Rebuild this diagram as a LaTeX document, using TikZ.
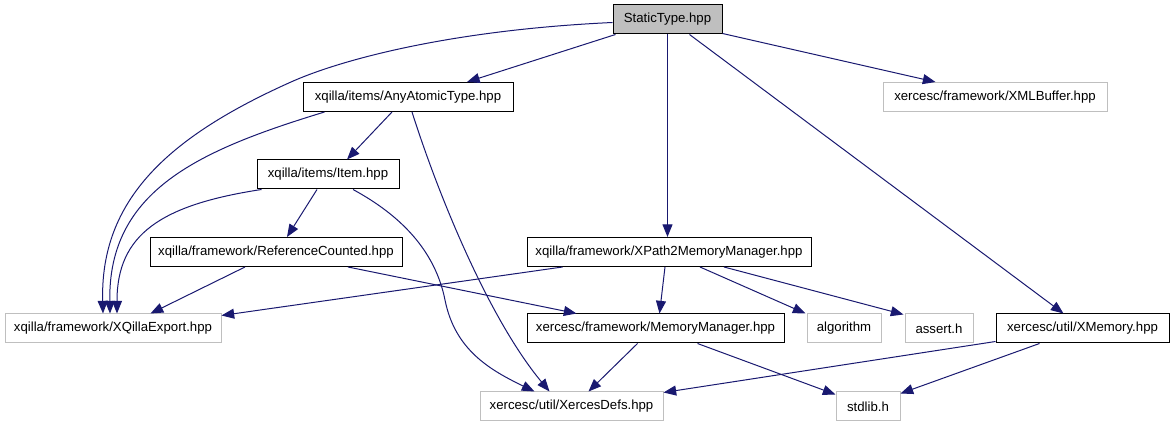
\documentclass[tikz,border=0pt]{standalone}
\usepackage{fontspec}
\setmainfont{Liberation Sans}
\usetikzlibrary{arrows.meta,calc}
\definecolor{edgecol}{HTML}{191970}
\definecolor{graybd}{HTML}{BFBFBF}
\begin{document}
\begin{tikzpicture}[x=0.75pt,y=-0.75pt,
  every node/.style={font=\fontsize{9.9}{11.8}\selectfont, inner sep=0pt, minimum height=21.75pt, fill=white},
  blk/.style={draw=black, line width=0.75pt},
  gry/.style={draw=graybd, line width=0.75pt},
  conn/.style={draw=edgecol, line width=0.75pt, -{Triangle[length=9.5pt,width=7.5pt]}, fill=none}]
\useasboundingbox (0,0) rectangle (1175,427);
\node[blk, fill=graybd, minimum width=81.75pt] (st) at (667.5,19.5) {StaticType.hpp};
\node[blk, minimum width=157.5pt] (aat) at (408,97) {xqilla/items/AnyAtomicType.hpp};
\node[gry, minimum width=168pt] (xmlbuf) at (995,97) {xercesc/framework/XMLBuffer.hpp};
\node[blk, minimum width=106.5pt] (item) at (328,174.5) {xqilla/items/Item.hpp};
\node[blk, minimum width=189pt] (rc) at (276,252) {xqilla/framework/ReferenceCounted.hpp};
\node[blk, minimum width=213pt] (xp2) at (669,252) {xqilla/framework/XPath2MemoryManager.hpp};
\node[gry, minimum width=162pt] (xqe) at (113,328.5) {xqilla/framework/XQillaExport.hpp};
\node[blk, minimum width=192.75pt] (mm) at (655.5,328.5) {xercesc/framework/MemoryManager.hpp};
\node[gry, minimum width=55.5pt] (alg) at (844,328.5) {algorithm};
\node[gry, minimum width=51pt] (assert) at (939,328.5) {assert.h};
\node[blk, minimum width=129.75pt] (xmem) at (1082.5,328.5) {xercesc/util/XMemory.hpp};
\node[gry, minimum width=137.25pt] (xd) at (571.5,406.5) {xercesc/util/XercesDefs.hpp};
\node[gry, minimum width=48pt] (stdlib) at (868,406.5) {stdlib.h};

\draw[conn] ($(st.south west)+(3,0)$) -- ($(aat.north)+(59,0)$);
\draw[conn] ($(st.west)+(0,3)$) .. controls (450,30) and (340,60) .. (291,82) .. controls (168,137) and (100,200) .. ($(xqe.north)+(-10,0)$);
\draw[conn] (st.south) -- (st.south |- xp2.north);
\draw[conn] ($(st.south east)+(0,-1)$) -- ($(xmlbuf.north west)+(53,0)$);
\draw[conn] ($(st.south)+(22,0)$) -- ($(xmem.north)+(-19,0)$);
\draw[conn] ($(aat.south)+(-16,0)$) -- ($(item.north)+(19,0)$);
\draw[conn] ($(aat.south west)+(22,0)$) .. controls (200,150) and (108,190) .. ($(xqe.north)+(-3,0)$);
\draw[conn] ($(aat.south)+(4,0)$) .. controls (440,200) and (490,320) .. ($(xd.north)+(-22,0)$);
\draw[conn] ($(item.south west)+(5,0)$) .. controls (160,205) and (117,235) .. ($(xqe.north)+(4,0)$);
\draw[conn] ($(item.south)+(-11,0)$) -- ($(rc.north)+(11,0)$);
\draw[conn] ($(item.south)+(25,0)$) .. controls (400,215) and (435,250) .. (445,300) .. controls (455,350) and (490,370) .. ($(xd.north)+(-37,0)$);
\draw[conn] ($(rc.south)+(-31,0)$) -- ($(xqe.north east)+(-71,0)$);
\draw[conn] ($(rc.south)+(72,0)$) -- ($(mm.north west)+(50,0)$);
\draw[conn] ($(xp2.south west)+(36,0)$) -- ($(xqe.north east)+(0,2)$);
\draw[conn] ($(xp2.south)+(-4,0)$) -- ($(mm.north)+(4,0)$);
\draw[conn] ($(xp2.south)+(31,0)$) -- ($(alg.north west)+(-1,0)$);
\draw[conn] ($(xp2.south)+(55,0)$) -- ($(assert.north west)+(-1,1)$);
\draw[conn] ($(mm.south)+(-18,0)$) -- ($(xd.north)+(17,0)$);
\draw[conn] ($(mm.south)+(42,0)$) -- ($(stdlib.north west)+(0,3)$);
\draw[conn] ($(xmem.south west)+(0,-2)$) -- ($(xd.north east)+(0,1)$);
\draw[conn] ($(xmem.south west)+(44,0)$) -- ($(stdlib.north east)+(0,2)$);
\end{tikzpicture}
\end{document}
